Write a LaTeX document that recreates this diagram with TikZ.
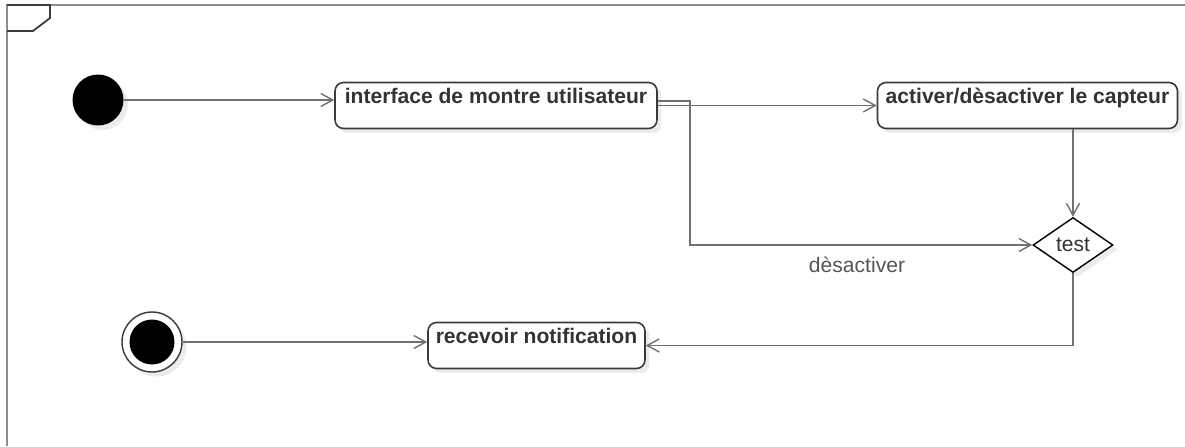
\documentclass[tikz,border=0pt]{standalone}
\usepackage{fontspec}
\setmainfont{Liberation Sans}
\usepackage{xcolor}
\usepackage{tikz}
\usetikzlibrary{calc}
\usetikzlibrary{positioning}
\usetikzlibrary{arrows.meta}
\usetikzlibrary{shapes.geometric}
\usetikzlibrary{shadows}

\definecolor{linegray}{HTML}{707070}
\definecolor{boxline}{HTML}{3A3A3A}
\definecolor{txtgray}{HTML}{333333}
\definecolor{lblgray}{HTML}{555555}

\begin{document}
\begin{tikzpicture}[x=0.02cm,y=-0.02cm,
      font=\fontsize{12}{14}\selectfont,
      shade style/.style={drop shadow={shadow xshift=0.09cm,shadow
          yshift=-0.09cm,fill=black!8,opacity=1}},
      act style/.style={rectangle,rounded corners=0.17cm,draw=boxline,line
        width=0.9pt,fill=white,shade style,text=txtgray,font=\fontsize{12}{14}\selectfont\bfseries,
        inner xsep=0pt,inner ysep=0.12cm,text height=0.3cm,text depth=0.38cm},
      dec style/.style={diamond,draw=black,line width=0.8pt,fill=white,shade style,
        inner sep=0pt,minimum width=1.6cm,minimum height=1.1cm,text=txtgray},
      flow/.style={draw=linegray,line width=1.1pt,-{Straight Barb[length=0.24cm,width=0.26cm,line width=0.8pt]}},
      frame style/.style={draw=linegray!80,line width=1.2pt}
      ]
      \useasboundingbox (0,0) rectangle (1185,446);
      % frame
      \draw[frame style] (7,446) -- (7,5) -- (1185,5);
      \draw[draw=boxline,line width=1pt] (7,5) -- (50,5) -- (50,18) -- (33,31) -- (7,31);
      % nodes
      \node[circle,fill=black,inner sep=0pt,minimum size=1.02cm,shade style] (start) at (98,100) {};
      \node[act style,minimum width=6.44cm] (iface) at (496,105.5) {interface de montre utilisateur};
      \node[act style,minimum width=6cm,right=4.38cm of iface] (act) {activer/dèsactiver le capteur};
      \node[dec style] (test) at (1073,245) {test};
      \node[act style,minimum width=4.34cm] (recv) at (536.5,345.5) {recevoir notification};
      \node[circle,draw=boxline,line width=0.8pt,fill=white,inner sep=0pt,minimum size=1.2cm,shade style] (stop) at (152,342) {};
      \node[circle,fill=black,inner sep=0pt,minimum size=0.9cm] (stopin) at (stop) {};
      \coordinate (turn) at (690,245);
      \node[text=lblgray] (lbl) at (857,265) {dèsactiver};
      % edges
      \draw[flow] (start.east) -- (start.east -| iface.west);
      \draw[flow] (iface.east) -- (act.west);
      \draw[flow] ([yshift=0.09cm]iface.east) -| (turn) -- (test.west);
      \draw[flow] (act.south -| test.north) -- (test.north);
      \draw[flow] (test.south) |- (recv.east);
      \draw[flow] (stop.east) -- (stop.east -| recv.west);
    \end{tikzpicture}
\end{document}
